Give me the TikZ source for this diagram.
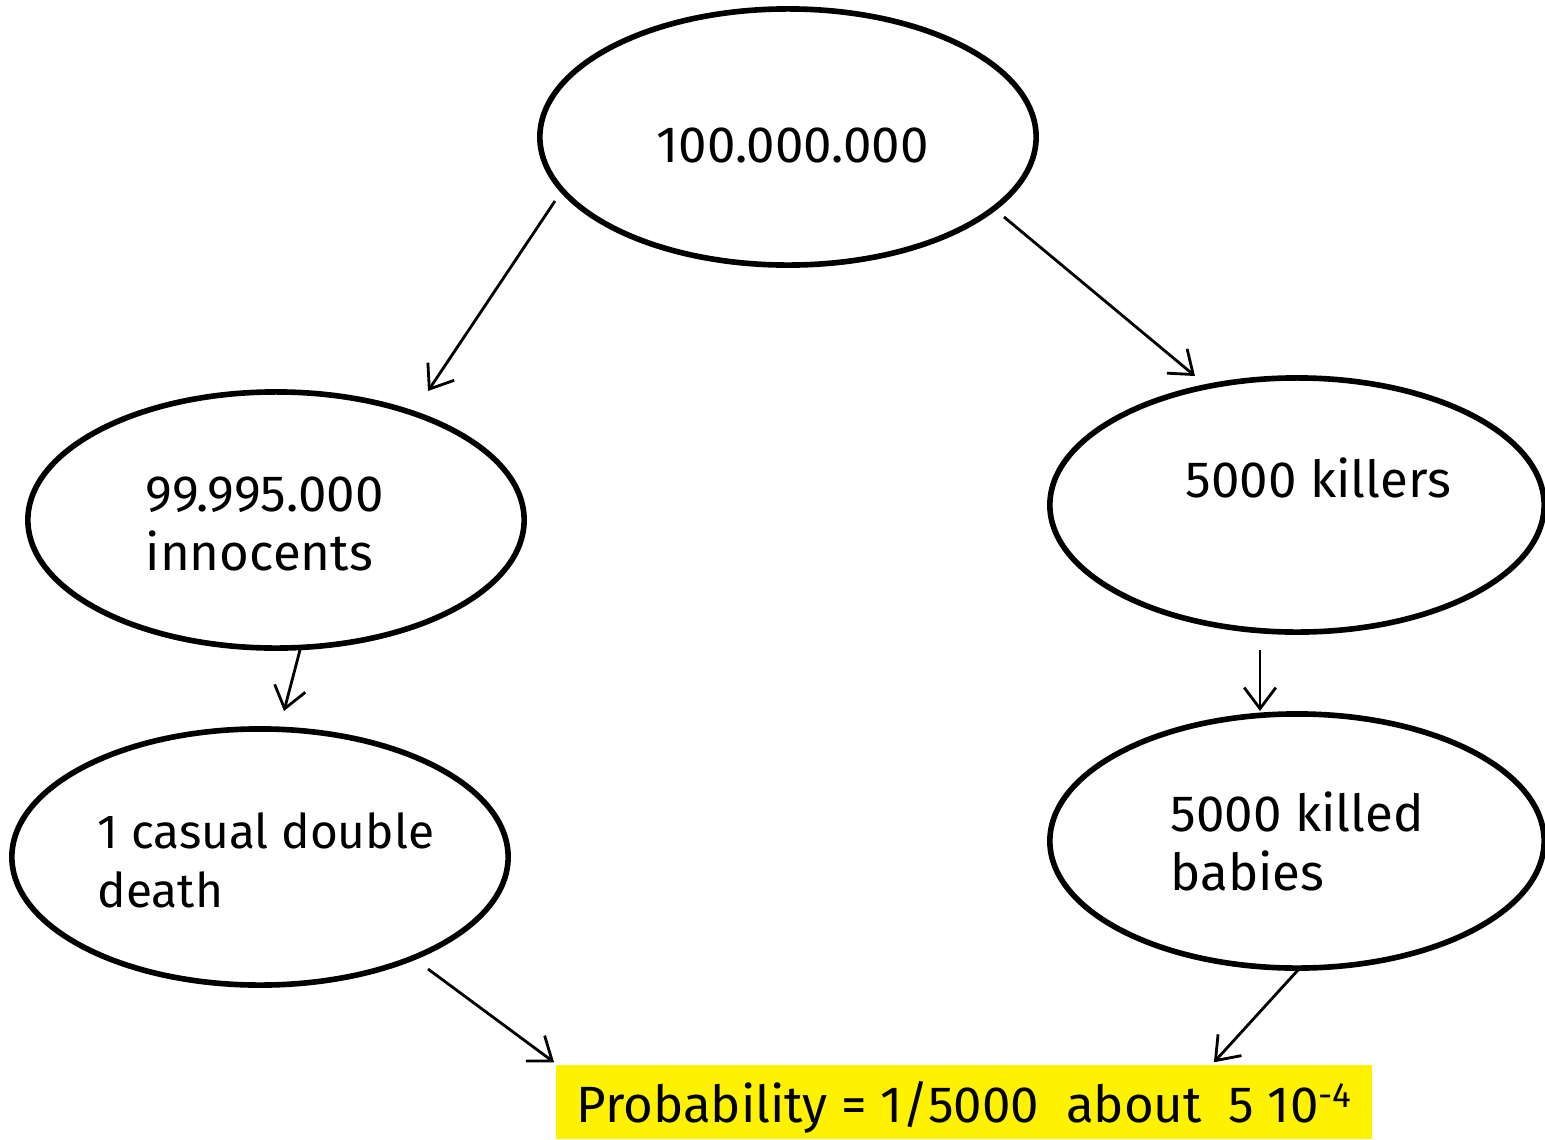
\documentclass[tikz,border=0pt]{standalone}
\usepackage{fontspec}
\setmainfont{Fira Sans}
\usetikzlibrary{shapes.geometric,arrows.meta}
\begin{document}
\begin{tikzpicture}[x=0.01cm,y=-0.01cm,
  oval/.style={draw,ellipse,line width=1.6pt,inner sep=0pt},
  lbl/.style={anchor=base west,inner sep=0pt,font=\fontsize{14.5}{16.5}\selectfont},
  arr/.style={line width=0.8pt,-{Straight Barb[length=6pt,width=9pt,line width=0.8pt]}}]
\useasboundingbox (0,0) rectangle (1545,1139);
\node[oval,minimum width=4.96cm,minimum height=2.56cm] (top) at (788,137) {};
\node[oval,minimum width=4.96cm,minimum height=2.56cm] (inn) at (276,520) {};
\node[oval,minimum width=4.94cm,minimum height=2.54cm] (kil) at (1297,505) {};
\node[oval,minimum width=4.96cm,minimum height=2.56cm] (cas) at (260,857) {};
\node[oval,minimum width=4.94cm,minimum height=2.54cm] (bab) at (1297,841) {};
\node[fill=yellow,inner sep=0pt,minimum width=8.16cm,minimum height=0.74cm] (box) at (964,1102) {};
\node[lbl] (t1) at (656,162) {100.000.000};
\node[lbl,align=left] (t2) at (145,570) {99.995.000\\innocents};
\node[lbl] (t3) at (1185,497) {5000 killers};
\node[lbl,align=left,font=\fontsize{13.6}{16.5}\selectfont] (t4) at (97,907) {1 casual double\\death};
\node[lbl,align=left] (t5) at (1170,890) {5000 killed\\babies};
\node[lbl] (prob) at (576,1122) {Probability = 1/5000\ \ about\ \ 5 10\raisebox{0.55ex}{\fontsize{10}{12}\selectfont -4}};
\draw[arr] ([shift={(-233,64)}]top.center) -- ([shift={(152,-129)}]inn.center);
\draw[arr] ([shift={(216,80)}]top.center) -- ([shift={(-102,-129)}]kil.center);
\draw[arr] ([shift={(24,130)}]inn.center) -- ([shift={(24,-146)}]cas.center);
\draw[arr] ([shift={(-37,145)}]kil.center) -- ([shift={(-37,-130)}]bab.center);
\draw[arr] ([shift={(168,112)}]cas.center) -- ([shift={(-1,-2)}]box.north west);
\draw[arr] ([shift={(1,129)}]bab.center) -- ([shift={(-159,-2)}]box.north east);
\end{tikzpicture}
\end{document}
